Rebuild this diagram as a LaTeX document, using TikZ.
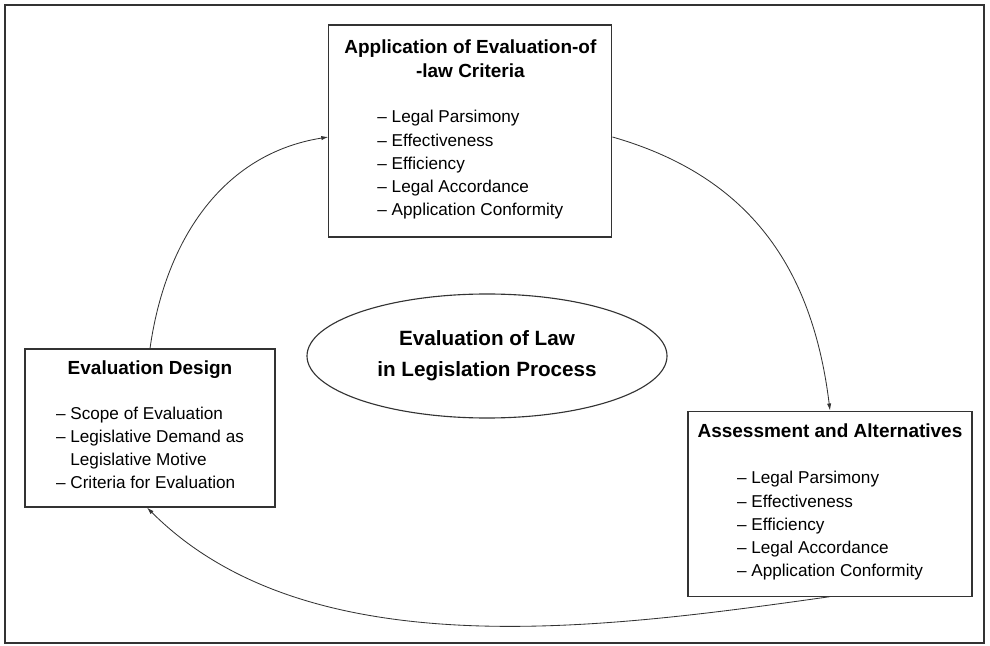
\documentclass[tikz,border=0pt]{standalone}
\usepackage{fontspec}
\setmainfont{Liberation Sans}
\usetikzlibrary{arrows.meta, positioning, shapes.geometric}
\newcommand{\headfont}{\fontsize{13.5}{17.7}\selectfont\bfseries}
\newcommand{\listfont}{\normalfont\fontsize{12.2}{16.5}\selectfont}
\newcommand{\hubfont}{\fontsize{14.7}{22}\selectfont\bfseries}

\begin{document}
\begin{tikzpicture}[
  stagebox/.style={draw=black!80, line width=0.8pt, align=center, font=\headfont, inner sep=0pt},
  hub/.style={ellipse, draw=black!80, line width=0.8pt, align=center, font=\hubfont, inner sep=0pt},
  flow/.style={draw=black!80, line width=0.6pt, -{Latex[length=5pt,width=3pt]}}]
\useasboundingbox (0,0) rectangle (24.75,-16.15);
% outer frame
\draw[black!80, line width=1.3pt] (0.125,-0.125) rectangle (24.6,-16.075);
% the three stages
\node[stagebox, minimum width=7.075cm, minimum height=5.3cm] (apply) at (11.76,-3.275)
  {Application of Evaluation-of\\-law Criteria\\[14.3pt]
   {\listfont\begin{tabular}[t]{@{}l@{\ }l@{}}
   --&Legal Parsimony\\ --&Effectiveness\\ --&Efficiency\\
   --&Legal Accordance\\ --&Application Conformity\end{tabular}}};
\node[stagebox, minimum width=6.25cm, minimum height=3.95cm] (design) at (3.75,-10.7)
  {Evaluation Design\\[14.3pt]
   {\listfont\begin{tabular}[t]{@{}l@{\ }l@{}}
   --&Scope of Evaluation\\ --&Legislative Demand as\\ &Legislative Motive\\
   --&Criteria for Evaluation\end{tabular}}};
\node[stagebox, minimum width=7.1cm, minimum height=4.625cm] (assess) at (20.75,-12.59)
  {Assessment and Alternatives\\[15.5pt]
   {\listfont\begin{tabular}[t]{@{}l@{\ }l@{}}
   --&Legal Parsimony\\ --&Effectiveness\\ --&Efficiency\\
   --&Legal Accordance\\ --&Application Conformity\end{tabular}}};
% centre ellipse
\node[hub, minimum width=9cm, minimum height=3.1cm] (hub) at (12.175,-8.9)
  {Evaluation of Law\\in Legislation Process};
% cycle arrows
\draw[flow] (design.north) to[out=82,in=189] ([yshift=-0.15cm]apply.west);
\draw[flow] ([yshift=-0.15cm]apply.east) to[out=-16,in=97,looseness=1.05] (assess.north);
\draw[flow] (assess.south) to[out=188,in=-45,looseness=0.85] ([xshift=-0.075cm]design.south);
\end{tikzpicture}
\end{document}
